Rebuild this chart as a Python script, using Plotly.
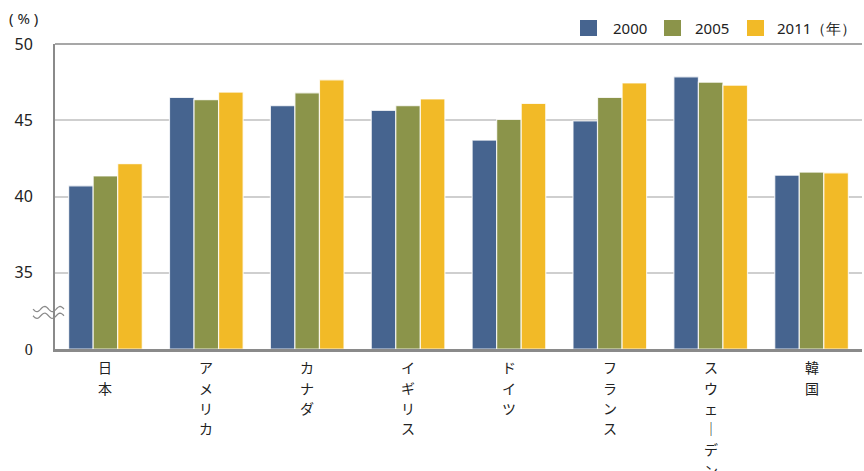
import plotly.graph_objects as go
import numpy as np

countries = ["日本", "アメリカ", "カナダ", "イギリス", "ドイツ", "フランス", "スウェーデン", "韓国"]
years = ["2000", "2005", "2011（年）"]
v2000 = [40.7, 46.5, 45.95, 45.65, 43.7, 44.95, 47.85, 41.4]
v2005 = [41.35, 46.35, 46.8, 45.95, 45.05, 46.5, 47.5, 41.6]
v2011 = [42.15, 46.85, 47.65, 46.4, 46.1, 47.45, 47.3, 41.55]
colors = ["#46648f", "#8b944a", "#f2ba27"]

tickvals = [30, 35, 40, 45, 50]
ticktext = ['<span style="font-family:Liberation Serif">0</span>', "35", "40", "45", "50"]

W, H = 864, 471
ml, mr, mt, mb = 55, 2, 44, 122
pw = W - ml - mr
ph = H - mt - mb

def px2x(x):
    return (x - ml) / pw

def px2y(y):
    return (H - mb - y) / ph

fig = go.Figure()
for name, vals, col in zip(years, [v2000, v2005, v2011], colors):
    fig.add_trace(go.Bar(
        x=countries, y=[v - 30 for v in vals], base=30, name=name,
        marker=dict(color=col, line=dict(color="rgba(255,255,255,0.8)", width=1.2)),
        showlegend=False,
    ))

shapes = []
annotations = []
# top border line
shapes.append(dict(type="line", xref="paper", yref="paper", x0=0, x1=1, y0=1, y1=1,
                   line=dict(color="#8a8a8a", width=1.5), layer="above"))
# break marks (two wavy lines)
for yc in [32.62, 32.18]:
    xs = np.linspace(33, 64, 32)
    pts = []
    for xx in xs:
        yy = yc - 0.17 * np.sin((xx - 33) / 31 * 4 * np.pi)
        pts.append(f"{px2x(xx):.5f},{yy:.4f}")
    shapes.append(dict(type="path", xref="paper", yref="y",
                       path="M" + " L".join(pts),
                       line=dict(color="#8a8a8a", width=1.2), layer="above"))

# manual legend
leg_sq = [580, 664, 747]
leg_tx = [611, 693, 775]
for name, col, sx, tx in zip(years, colors, leg_sq, leg_tx):
    shapes.append(dict(type="rect", xref="paper", yref="paper",
                       x0=px2x(sx), x1=px2x(sx + 17), y0=px2y(36), y1=px2y(20),
                       fillcolor=col, line=dict(width=0)))
    annotations.append(dict(text=name, xref="paper", yref="paper", x=px2x(tx), y=px2y(28),
                            xanchor="left", yanchor="middle", showarrow=False,
                            font=dict(size=15, color="#222")))

# (%) label
annotations.append(dict(text="( % )", xref="paper", yref="paper", x=px2x(7), y=px2y(18),
                        xanchor="left", yanchor="middle", showarrow=False,
                        font=dict(size=15, color="#222")))

# vertical x labels, one character per annotation
for c in countries:
    for i, ch in enumerate(c):
        if ch == "ー":
            ch = "｜"
        annotations.append(dict(text=ch, x=c, xref="x", yref="paper", y=px2y(367 + 20.5 * i),
                                xanchor="center", yanchor="middle", showarrow=False,
                                font=dict(size=14, color="#222", family="Noto Sans CJK JP")))

fig.update_layout(
    width=W, height=H,
    margin=dict(l=ml, r=mr, t=mt, b=mb, autoexpand=False),
    paper_bgcolor="white", plot_bgcolor="white",
    barmode="group", bargap=0.27, bargroupgap=0.0,
    font=dict(family="Noto Sans, sans-serif", size=16, color="#222"),
    showlegend=False,
    shapes=shapes,
    annotations=annotations,
)
fig.update_xaxes(
    showticklabels=False, automargin=False,
    showline=True, linecolor="#8a8a8a", linewidth=3, ticks="", showgrid=False,
)
fig.update_yaxes(
    range=[30, 50], tickvals=tickvals, ticktext=ticktext, automargin=False,
    showline=True, linecolor="#8a8a8a", linewidth=2, ticks="",
    showgrid=True, gridcolor="#cfcfcf", gridwidth=1.5, zeroline=False,
    tickfont=dict(size=16, family="Noto Sans, sans-serif", color="#222"), ticklabelstandoff=17,
)
fig.write_html("out.html")
